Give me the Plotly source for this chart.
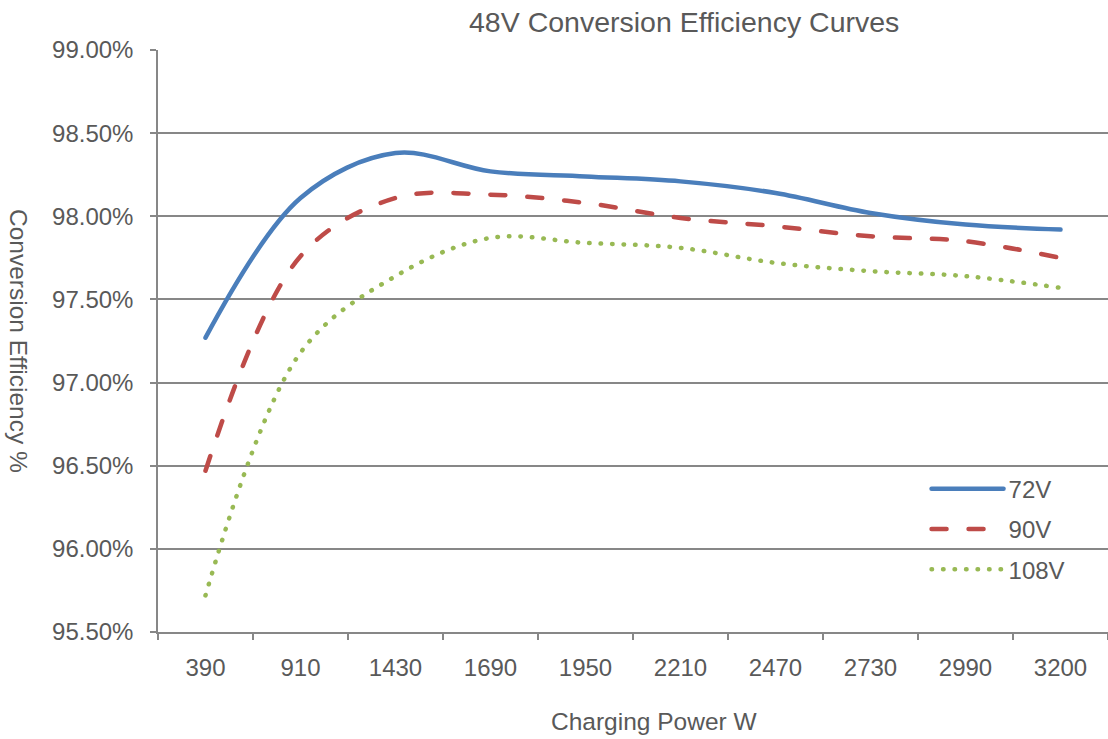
import plotly.graph_objects as go

power_w = ["390", "910", "1430", "1690", "1950", "2210", "2470", "2730", "2990", "3200"]
eff_72v = [97.27, 98.11, 98.38, 98.27, 98.24, 98.21, 98.14, 98.02, 97.95, 97.92]
eff_90v = [96.47, 97.76, 98.11, 98.13, 98.08, 97.99, 97.94, 97.88, 97.85, 97.75]
eff_108v = [95.72, 97.18, 97.64, 97.87, 97.84, 97.81, 97.72, 97.67, 97.64, 97.57]

series = [
    ("72V", eff_72v, "#4A7EBB", "solid"),
    ("90V", eff_90v, "#BE4B48", "15px,22px"),
    ("108V", eff_108v, "#98B954", "0.5px,11px"),
]

FONT = "Liberation Sans, Arial, sans-serif"
TXT = "#595959"
GRID = "#878787"

fig = go.Figure()
for i, (name, vals, color, dash) in enumerate(series):
    fig.add_trace(go.Scatter(
        x=power_w, y=vals, name=name, mode="lines",
        line=dict(color=color, width=4.5, dash=dash, shape="spline", smoothing=1.0),
        legendgroup=name,
    ))

fig.update_layout(
    width=1108, height=739,
    margin=dict(l=158, r=0, t=50, b=107),
    paper_bgcolor="white", plot_bgcolor="white",
    font=dict(family=FONT, color=TXT, size=24),
    showlegend=True,
    legend=dict(
        x=0.809, y=0.284, xanchor="left", yanchor="top",
        bgcolor="rgba(0,0,0,0)", font=dict(size=24, color=TXT),
        itemwidth=72, tracegroupgap=6,
    ),
    annotations=[
        dict(text="48V Conversion Efficiency Curves", xref="paper", yref="paper",
             x=(684 - 158) / 950, y=1 + 28 / 582, xanchor="center", yanchor="middle",
             showarrow=False, font=dict(size=28.5, color=TXT)),
        dict(text="Charging Power W", xref="paper", yref="paper",
             x=(654 - 158) / 950, y=-(722 - 632) / 582, xanchor="center", yanchor="middle",
             showarrow=False, font=dict(size=24.5, color=TXT)),
        dict(text="Conversion Efficiency %", xref="paper", yref="paper",
             x=-(158 - 19) / 950, y=0.5, xanchor="center", yanchor="middle", textangle=90,
             showarrow=False, font=dict(size=24.5, color=TXT)),
    ],
)

fig.update_xaxes(
    type="category", range=[-0.5, 9.5],
    showgrid=False, showline=True, linecolor=GRID, linewidth=1.5,
    ticks="outside", ticklen=6, tickcolor=GRID, tickwidth=1.5,
    tickson="boundaries", ticklabelstandoff=13,
    tickfont=dict(size=24, color=TXT),
)
fig.update_yaxes(
    range=[95.5, 99.0], dtick=0.5, tick0=95.5,
    tickformat=".2f", ticksuffix="%",
    showgrid=True, gridcolor=GRID, gridwidth=1.5,
    showline=True, linecolor=GRID, linewidth=1.5,
    ticks="outside", ticklen=6, tickcolor=GRID, tickwidth=1.5,
    ticklabelstandoff=12, zeroline=False,
    tickfont=dict(size=24, color=TXT),
)

post = (
    "document.body.style.margin='0';document.body.style.overflow='hidden';"
    "document.querySelectorAll('path.js-line, g.legendlines path').forEach("
    "function(p){p.style.strokeLinecap='round';});"
)
fig.write_html("out.html", config={"displayModeBar": False}, post_script=post)
